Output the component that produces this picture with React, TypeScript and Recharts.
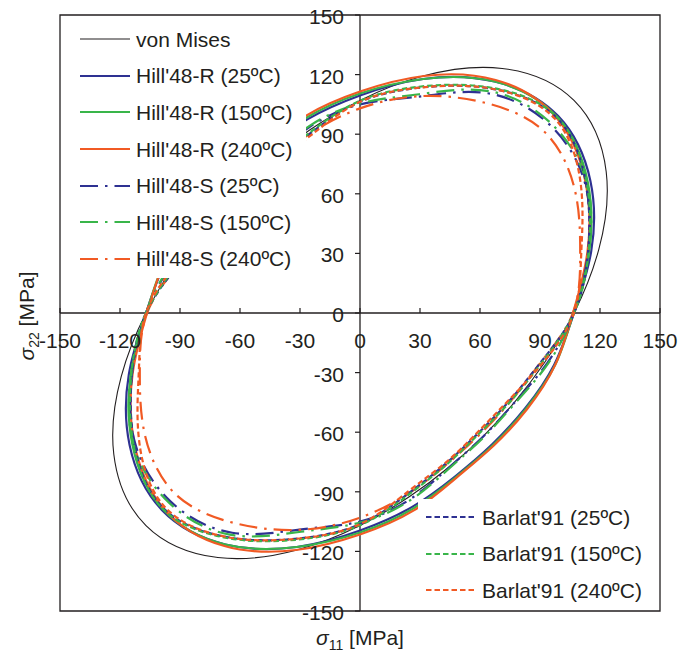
import { LineChart, Line, XAxis, YAxis, ReferenceLine, ReferenceArea, Legend } from 'recharts'

type Pt = [number, number]

// stress values in MPa; each loop starts and ends behind the top legend
const TICKS = [-150, -120, -90, -60, -30, 0, 30, 60, 90, 120, 150]

const VON_MISES: Pt[] = [
  [-61.8, 61.8], [-77.4, 44.7], [-92.4, 24.8], [-107, 0], [-119.4, -32.0], [-123.1, -71.1],
  [-107, -107], [-71.1, -123.1], [-32.0, -119.4], [0, -107], [24.8, -92.4], [44.7, -77.4],
  [61.8, -61.8], [77.4, -44.7], [92.4, -24.8], [107, 0], [119.4, 32.0], [123.1, 71.1],
  [107, 107], [71.1, 123.1], [32.0, 119.4], [0, 107], [-24.8, 92.4], [-44.7, 77.4], [-61.8, 61.8],
]

const HILL_R_25: Pt[] = [
  [-66.1, 66.1], [-82.7, 47.8], [-97.1, 26.0], [-107, 0], [-115.6, -31.0], [-115.2, -66.5],
  [-99.1, -99.1], [-67.3, -116.5], [-31.6, -117.8], [0, -109.5], [26.1, -97.6], [47.5, -82.3],
  [66.1, -66.1], [82.7, -47.8], [97.1, -26.0], [107, 0], [115.6, 31.0], [115.2, 66.5],
  [99.1, 99.1], [67.3, 116.5], [31.6, 117.8], [0, 109.5], [-26.1, 97.6], [-47.5, 82.3], [-66.1, 66.1],
]

const HILL_R_150: Pt[] = [
  [-66.5, 66.5], [-83.1, 48.0], [-97.6, 26.1], [-106.8, 0], [-114.5, -30.7], [-113.9, -65.8],
  [-98.6, -98.6], [-67.3, -116.5], [-31.6, -117.8], [0, -110.5], [26.4, -98.5], [47.8, -82.7],
  [66.5, -66.5], [83.1, -48.0], [97.6, -26.1], [106.8, 0], [114.5, 30.7], [113.9, 65.8],
  [98.6, 98.6], [67.3, 116.5], [31.6, 117.8], [0, 110.5], [-26.4, 98.5], [-47.8, 82.7], [-66.5, 66.5],
]

const HILL_R_240: Pt[] = [
  [-66.8, 66.8], [-83.6, 48.3], [-97.6, 26.1], [-106.5, 0], [-113.7, -30.5], [-112.9, -65.2],
  [-98.3, -98.3], [-67.8, -117.3], [-32.0, -119.3], [0, -111.5], [26.7, -99.5], [48.0, -83.1],
  [66.8, -66.8], [83.6, -48.3], [97.6, -26.1], [106.5, 0], [113.7, 30.5], [112.9, 65.2],
  [98.3, 98.3], [67.8, 117.3], [32.0, 119.3], [0, 111.5], [-26.7, 99.5], [-48.0, 83.1], [-66.8, 66.8],
]

const HILL_S_25: Pt[] = [
  [-61.9, 61.9], [-77.5, 44.8], [-93.7, 25.1], [-107, 0], [-114.0, -30.5], [-112.6, -65.0],
  [-94.8, -94.8], [-63.9, -110.6], [-29.2, -108.9], [0, -105], [25.1, -93.7], [44.8, -77.5],
  [61.9, -61.9], [77.5, -44.8], [93.7, -25.1], [107, 0], [114.0, 30.5], [112.6, 65.0],
  [94.8, 94.8], [63.9, 110.6], [29.2, 108.9], [0, 105], [-25.1, 93.7], [-44.8, 77.5], [-61.9, 61.9],
]

const HILL_S_150: Pt[] = [
  [-62.2, 62.2], [-77.9, 45.0], [-94.2, 25.2], [-107, 0], [-114.5, -30.7], [-113.4, -65.5],
  [-95.5, -95.5], [-64.5, -111.7], [-29.5, -110.1], [0, -105.5], [25.2, -94.2], [45.0, -77.9],
  [62.2, -62.2], [77.9, -45.0], [94.2, -25.2], [107, 0], [114.5, 30.7], [113.4, 65.5],
  [95.5, 95.5], [64.5, 111.7], [29.5, 110.1], [0, 105.5], [-25.2, 94.2], [-45.0, 77.9], [-62.2, 62.2],
]

const HILL_S_240: Pt[] = [
  [-60.5, 60.5], [-75.8, 43.8], [-90.8, 24.3], [-106.5, 0], [-110.1, -29.5], [-107.4, -62.0],
  [-91.7, -91.7], [-61.3, -106.1], [-29.2, -109.1], [0, -103], [24.3, -90.8], [43.8, -75.8],
  [60.5, -60.5], [75.8, -43.8], [90.8, -24.3], [106.5, 0], [110.1, 29.5], [107.4, 62.0],
  [91.7, 91.7], [61.3, 106.1], [29.2, 109.1], [0, 103], [-24.3, 90.8], [-43.8, 75.8], [-60.5, 60.5],
]

const BARLAT_25: Pt[] = [
  [-59.8, 59.8], [-75.3, 43.5], [-90.8, 24.3], [-107, 0], [-114.0, -30.5], [-113.0, -65.3],
  [-98.3, -98.3], [-65.3, -113.0], [-30.4, -113.5], [0, -106.3], [24.3, -90.8], [43.5, -75.3],
  [59.8, -59.8], [75.3, -43.5], [90.8, -24.3], [107, 0], [114.0, 30.5], [113.0, 65.3],
  [98.3, 98.3], [65.3, 113.0], [30.4, 113.5], [0, 106.3], [-24.3, 90.8], [-43.5, 75.3], [-59.8, 59.8],
]

const BARLAT_150: Pt[] = [
  [-60.1, 60.1], [-75.8, 43.8], [-91.3, 24.5], [-107, 0], [-114.3, -30.6], [-113.4, -65.5],
  [-98.6, -98.6], [-65.5, -113.4], [-30.5, -114.0], [0, -106.8], [24.5, -91.3], [43.8, -75.8],
  [60.1, -60.1], [75.8, -43.8], [91.3, -24.5], [107, 0], [114.3, 30.6], [113.4, 65.5],
  [98.6, 98.6], [65.5, 113.4], [30.5, 114.0], [0, 106.8], [-24.5, 91.3], [-43.8, 75.8], [-60.1, 60.1],
]

const BARLAT_240: Pt[] = [
  [-59.4, 59.4], [-74.9, 43.3], [-91.8, 24.6], [-107, 0], [-110.6, -29.6], [-110.5, -63.8],
  [-97.6, -97.6], [-65.3, -113.0], [-30.4, -113.5], [0, -106.3], [24.1, -89.8], [43.3, -74.9],
  [59.4, -59.4], [74.9, -43.3], [91.8, -24.6], [107, 0], [110.6, 29.6], [110.5, 63.8],
  [97.6, 97.6], [65.3, 113.0], [30.4, 113.5], [0, 106.3], [-24.1, 89.8], [-43.3, 74.9], [-59.4, 59.4],
]

const INK = '#231f20'
const BLUE = '#2e3192'
const GREEN = '#39b54a'
const RED = '#f15a24'
const DASH_DOT = '18 7 2.5 7'
const DASHED = '5.5 3'
const FONT = "'Liberation Sans', Arial, sans-serif"

interface Series {
  name: string
  points: Pt[]
  color: string
  width: number
  dash?: string
  box: 'top' | 'bottom'
}

const SERIES: Series[] = [
  { name: 'von Mises', points: VON_MISES, color: INK, width: 1.1, box: 'top' },
  { name: "Hill'48-R (25ºC)", points: HILL_R_25, color: BLUE, width: 2.2, box: 'top' },
  { name: "Hill'48-R (150ºC)", points: HILL_R_150, color: GREEN, width: 2.2, box: 'top' },
  { name: "Hill'48-R (240ºC)", points: HILL_R_240, color: RED, width: 2.2, box: 'top' },
  { name: "Hill'48-S (25ºC)", points: HILL_S_25, color: BLUE, width: 2.2, dash: DASH_DOT, box: 'top' },
  { name: "Hill'48-S (150ºC)", points: HILL_S_150, color: GREEN, width: 2.2, dash: DASH_DOT, box: 'top' },
  { name: "Hill'48-S (240ºC)", points: HILL_S_240, color: RED, width: 2.2, dash: DASH_DOT, box: 'top' },
  { name: "Barlat'91 (25ºC)", points: BARLAT_25, color: BLUE, width: 2.2, dash: DASHED, box: 'bottom' },
  { name: "Barlat'91 (150ºC)", points: BARLAT_150, color: GREEN, width: 2.2, dash: DASHED, box: 'bottom' },
  { name: "Barlat'91 (240ºC)", points: BARLAT_240, color: RED, width: 2.2, dash: DASHED, box: 'bottom' },
]

const W = 692
const H = 654
const MARGIN = { top: 15, right: 32, bottom: 0, left: 0 }
const Y_AXIS_W = 60
const X_AXIS_H = 43
const PLOT_W = W - MARGIN.left - MARGIN.right - Y_AXIS_W
const PLOT_H = H - MARGIN.top - MARGIN.bottom - X_AXIS_H
const ORIGIN_X = MARGIN.left + Y_AXIS_W + PLOT_W / 2
const ORIGIN_Y = MARGIN.top + PLOT_H / 2
const ROW_H = 36.6

function XTick(props: any) {
  const { x, payload } = props
  return (
    <g>
      <line x1={x} x2={x} y1={ORIGIN_Y - 5} y2={ORIGIN_Y} stroke={INK} strokeWidth={1.2} />
      <text x={x} y={ORIGIN_Y + 35} textAnchor="middle" fontSize={21} fill={INK} fontFamily={FONT}>
        {payload.value}
      </text>
    </g>
  )
}

function YTick(props: any) {
  const { y, payload } = props
  return (
    <g>
      <line x1={ORIGIN_X - 5} x2={ORIGIN_X} y1={y} y2={y} stroke={INK} strokeWidth={1.2} />
      <text x={ORIGIN_X - 16} y={y + 9} textAnchor="end" fontSize={21} fill={INK} fontFamily={FONT}>
        {payload.value}
      </text>
    </g>
  )
}

function XTitle(props: any) {
  const { x, y, width } = props.viewBox
  return (
    <text x={x + width / 2} y={y + 34} textAnchor="middle" fontSize={21} fill={INK} fontFamily={FONT}>
      <tspan fontStyle="italic">σ</tspan>
      <tspan fontSize={14} dy={5}>11</tspan>
      <tspan dy={-5}> [MPa]</tspan>
    </text>
  )
}

function YTitle(props: any) {
  const { x, y, height } = props.viewBox
  const cx = x + 34
  const cy = y + height / 2 + 3
  return (
    <text x={cx} y={cy} transform={`rotate(-90, ${cx}, ${cy})`} textAnchor="middle" fontSize={21} fill={INK} fontFamily={FONT}>
      <tspan fontStyle="italic">σ</tspan>
      <tspan fontSize={14} dy={5}>22</tspan>
      <tspan dy={-5}> [MPa]</tspan>
    </text>
  )
}

function LegendBox({ items, style }: { items: Series[]; style: React.CSSProperties }) {
  return (
    <div style={{ position: 'absolute', background: '#fff', boxSizing: 'border-box', ...style }}>
      {items.map(s => (
        <div key={s.name} style={{ display: 'flex', alignItems: 'center', height: ROW_H }}>
          <svg width={50} height={6} style={{ marginRight: 6, flex: 'none' }}>
            <line x1={0} x2={50} y1={3} y2={3} stroke={s.color} strokeWidth={s.width} strokeDasharray={s.dash} />
          </svg>
          <span style={{ fontSize: 21, lineHeight: 1, color: INK, whiteSpace: 'nowrap' }}>{s.name}</span>
        </div>
      ))}
    </div>
  )
}

function YieldLegend() {
  return (
    <>
      <LegendBox
        items={SERIES.filter(s => s.box === 'top')}
        style={{ left: 61, top: 16, width: 245, height: 262, paddingTop: 5, paddingLeft: 19 }}
      />
      <LegendBox
        items={SERIES.filter(s => s.box === 'bottom')}
        style={{ left: 418, top: 499, width: 240, height: 111, paddingLeft: 8 }}
      />
    </>
  )
}

export default function App() {
  return (
    <div style={{ position: 'absolute', left: 0, top: 0, width: W, height: H, background: '#fff', fontFamily: FONT }}>
      <LineChart width={W} height={H} margin={MARGIN}>
        <XAxis
          type="number"
          dataKey="x"
          domain={[-150, 150]}
          ticks={TICKS}
          allowDataOverflow
          axisLine={false}
          tickLine={false}
          height={X_AXIS_H}
          tick={XTick}
          label={XTitle}
        />
        <YAxis
          type="number"
          dataKey="y"
          domain={[-150, 150]}
          ticks={TICKS}
          allowDataOverflow
          axisLine={false}
          tickLine={false}
          width={Y_AXIS_W}
          tick={YTick}
          label={YTitle}
        />
        <ReferenceArea x1={-150} x2={150} y1={-150} y2={150} fill="none" stroke={INK} strokeWidth={1.3} />
        <ReferenceLine x={0} stroke={INK} strokeWidth={1.3} />
        <ReferenceLine y={0} stroke={INK} strokeWidth={1.3} />
        {SERIES.map(s => (
          <Line
            key={s.name}
            data={s.points.map(([x, y]) => ({ x, y }))}
            dataKey="y"
            type="natural"
            stroke={s.color}
            strokeWidth={s.width}
            strokeDasharray={s.dash}
            dot={false}
            activeDot={false}
            isAnimationActive={false}
          />
        ))}
        <Legend
          layout="vertical"
          align="center"
          verticalAlign="middle"
          wrapperStyle={{ left: 0, top: 0, width: W, height: H, pointerEvents: 'none' }}
          content={YieldLegend}
        />
      </LineChart>
    </div>
  )
}
